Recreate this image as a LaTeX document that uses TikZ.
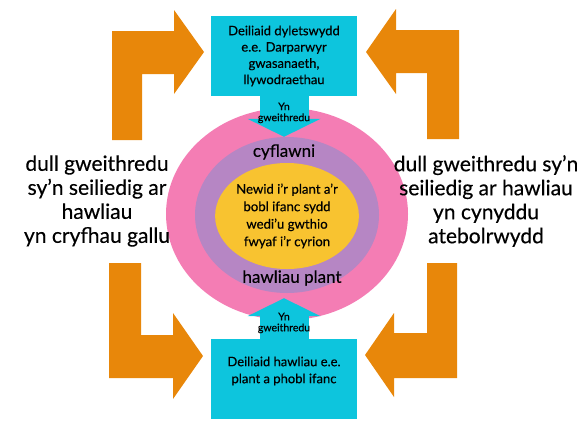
\documentclass[tikz,border=0pt]{standalone}
\usepackage{fontspec}
\setmainfont{Lato}[FakeBold=0.4]
\usetikzlibrary{arrows.meta,shapes.geometric,positioning}
\definecolor{arrorange}{HTML}{E8870A}
\definecolor{boxblue}{HTML}{0DC5DD}
\definecolor{ringpink}{HTML}{F47DB4}
\definecolor{ringpurple}{HTML}{B686C4}
\definecolor{coreyellow}{HTML}{F8C330}
\tikzset{
  bentarrow/.style={fill=arrorange},
  ring/.style={ellipse, inner sep=0pt},
  bluebox/.style={fill=boxblue, minimum width=146pt, minimum height=80pt, inner sep=0pt},
  boxtxt/.style={align=center, font=\fontsize{13}{16.3}\selectfont},
  sidetxt/.style={align=center, font=\fontsize{21}{24}\selectfont},
  ringtxt/.style={font=\fontsize{17}{20}\selectfont},
  flow/.style={draw=boxblue, line width=49pt, -{Triangle[width=73pt,length=18pt,line width=0pt]}},
  flowtxt/.style={align=center, font=\fontsize{10.5}{11}\selectfont}
}
\begin{document}
\begin{tikzpicture}[x=1pt,y=-1pt]
\useasboundingbox (0,0) rectangle (585,440);
% rings
\node[ring, fill=ringpink, minimum width=242pt, minimum height=212pt] (outer) at (287,214) {};
\node[ring, fill=ringpurple, minimum width=184pt, minimum height=156pt] (mid) at (287,215) {};
\node[ring, fill=coreyellow, minimum width=120pt, minimum height=106pt, align=center,
  font=\fontsize{13.2}{17.5}\selectfont] (core) at (287,216)
  {Newid i'r plant a'r\\bobl ifanc sydd\\wedi'u gwthio\\fwyaf i'r cyrion};
\node[ringtxt] (cyfl) at (284,152) {cyflawni};
\node[ringtxt] (hawl) at (292,278) {hawliau plant};
% bent arrows
\fill[bentarrow] (112,140) -- (112,31) -- (174,31) -- (174,10) -- (204,52) -- (174,94) -- (174,74) -- (142,74) -- (142,140) -- cycle;
\fill[bentarrow] (109,263) -- (141,263) -- (141,335) -- (173,335) -- (173,313) -- (203,356) -- (173,399) -- (173,378) -- (109,378) -- cycle;
\fill[bentarrow] (459,139) -- (459,30) -- (396,30) -- (396,9) -- (366,52) -- (396,94) -- (396,73) -- (427,73) -- (427,139) -- cycle;
\fill[bentarrow] (427,263) -- (457,263) -- (457,378) -- (394,378) -- (394,397) -- (365,355) -- (394,313) -- (394,333) -- (427,333) -- cycle;
% boxes
\node[bluebox, boxtxt] (duty) at (284,56)
  {Deiliaid dyletswydd\\e.e. Darparwyr\\gwasanaeth,\\llywodraethau};
\node[bluebox] (holders) at (284,379) {};
\node[boxtxt, font=\fontsize{13}{17}\selectfont] (holderstxt) at (284,371)
  {Deiliaid hawliau e.e.\\plant a phobl ifanc};
\draw[flow] (duty.south) -- (duty.south |- mid.north)
  node[flowtxt, pos=0.41] (dutyflow) {Yn\\gweithredu};
\draw[flow] (holders.north) -- ([yshift=-5pt]holders.north |- mid.south)
  node[flowtxt, pos=0.39] (holdersflow) {Yn\\gweithredu};
% side texts
\node[sidetxt] (lefttxt) at (97,201)
  {dull gweithredu\\sy'n seiliedig ar\\hawliau\\yn cryfhau gallu};
\node[sidetxt] (righttxt) at (486,201)
  {dull gweithredu sy'n\\seiliedig ar hawliau\\yn cynyddu\\atebolrwydd};
\end{tikzpicture}
\end{document}
